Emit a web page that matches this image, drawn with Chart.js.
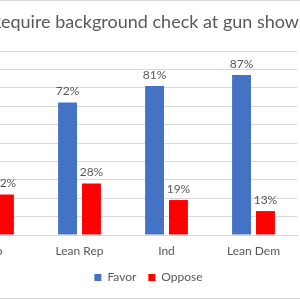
<!DOCTYPE html>
<html>
<head>
<meta charset="utf-8">
<script src="https://cdn.jsdelivr.net/npm/chart.js@4.4.0/dist/chart.umd.min.js"></script>
<style>
  html, body { margin: 0; padding: 0; background: #fff; overflow: hidden; }
  #wrap { position: relative; width: 300px; height: 300px; overflow: hidden; }
  #frame { position: absolute; left: -10px; top: 0; width: 320px; height: 297px;
           border-top: 1px solid #d9d9d9; border-bottom: 1px solid #d9d9d9; }
  #chart { position: absolute; left: -56px; top: 0; }
</style>
</head>
<body>
<div id="wrap">
  <div id="frame"></div>
  <canvas id="chart" width="404" height="300"></canvas>
</div>
<script>
// ===== dữ liệu =====
const categories = ["Rep", "Lean Rep", "Ind", "Lean Dem"];
const favorValues = [78, 72, 81, 87];
const opposeValues = [22, 28, 19, 13];
const axisMax = 100;
const axisStep = 10;

const textColor = "#595959";
const fontFamily = "Lato, 'Open Sans', sans-serif";

// nhãn phần trăm trên đầu cột
const valueLabels = {
  id: "valueLabels",
  afterDatasetsDraw(chart) {
    const ctx = chart.ctx;
    ctx.save();
    ctx.font = "12px " + fontFamily;
    ctx.fillStyle = textColor;
    ctx.textAlign = "center";
    ctx.textBaseline = "bottom";
    chart.data.datasets.forEach((ds, i) => {
      chart.getDatasetMeta(i).data.forEach((bar, j) => {
        ctx.fillText(ds.data[j] + "%", bar.x, bar.y - 5);
      });
    });
    ctx.restore();
  }
};

new Chart(document.getElementById("chart"), {
  type: "bar",
  data: {
    labels: categories,
    datasets: [
      { label: "Favor", data: favorValues, backgroundColor: "#4472C4",
        categoryPercentage: 0.55, barPercentage: 0.79 },
      { label: "Oppose", data: opposeValues, backgroundColor: "#FF0000",
        categoryPercentage: 0.55, barPercentage: 0.79 }
    ]
  },
  options: {
    responsive: false,
    animation: false,
    layout: { padding: { left: 5, right: 0, top: 0, bottom: 6.6 } },
    plugins: {
      title: {
        display: true,
        text: "Require background check at gun shows",
        color: textColor,
        font: { family: fontFamily, size: 18, weight: "normal" },
        padding: { top: 11, bottom: 18.4 }
      },
      legend: {
        position: "bottom",
        labels: {
          color: textColor,
          font: { family: fontFamily, size: 12 },
          boxWidth: 7,
          boxHeight: 7,
          padding: 12
        }
      },
      tooltip: { enabled: false }
    },
    scales: {
      x: {
        grid: { display: false },
        border: { color: "#d9d9d9" },
        ticks: { color: textColor, font: { family: fontFamily, size: 12 }, padding: 1 }
      },
      y: {
        position: "right",
        min: 0,
        max: axisMax,
        ticks: { display: false, stepSize: axisStep },
        grid: { color: "#d9d9d9", drawTicks: false },
        border: { display: false },
        afterFit(axis) { axis.width = 51; }
      }
    }
  },
  plugins: [valueLabels]
});
</script>
</body>
</html>
